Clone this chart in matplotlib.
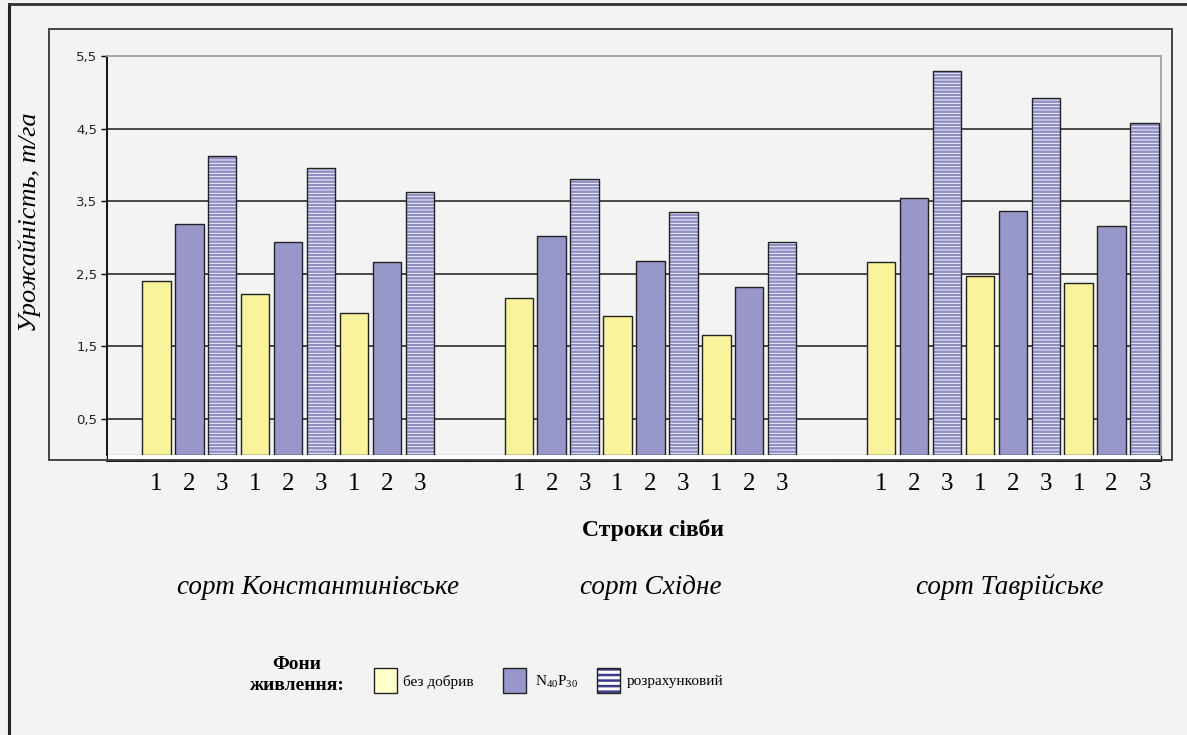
import matplotlib
matplotlib.use("Agg")
import matplotlib.pyplot as plt
from matplotlib.patches import Rectangle
from matplotlib.lines import Line2D
import numpy as np

plt.rcParams["hatch.linewidth"] = 1.8
plt.rcParams["mathtext.default"] = "regular"

# yield, t/ha, for sowing dates 1-3 within each of three backgrounds, per variety
varieties = ["сорт Константинівське", "сорт Східне", "сорт Таврійське"]
sowing_dates = ["1", "2", "3"]
series_names = ["без добрив", "N$_{40}$P$_{30}$", "розрахунковий"]

# one row per variety, one value per sowing date
bez_dobryv = [[2.40, 2.22, 1.96], [2.16, 1.91, 1.65], [2.66, 2.47, 2.37]]
n40p30 = [[3.19, 2.93, 2.66], [3.02, 2.67, 2.31], [3.54, 3.37, 3.15]]
rozrakh = [[4.12, 3.95, 3.63], [3.80, 3.35, 2.93], [5.29, 4.92, 4.58]]

yticks = [0.5, 1.5, 2.5, 3.5, 4.5, 5.5]

W, H = 1187, 735
BG = "#F3F3F3"
YEL = "#F9F39B"
BLUE = "#9797C9"
SERIF = "Liberation Serif"


def fx(px):
    return px / W


def fy(py):
    return 1 - py / H


fig = plt.figure(figsize=(W / 100, H / 100), dpi=100, facecolor=BG)
ax = fig.add_axes([fx(107), fy(455), fx(1161) - fx(107), fy(56) - fy(455)])
ax.set_facecolor(BG)

# slot layout: one empty slot, 9 bars, two empty, 9 bars, two empty, 9 bars
starts = [1, 12, 23]
bar_w = 0.86
label_pos, label_txt = [], []
for g in range(3):
    for d in range(3):
        base = starts[g] + d * 3
        ax.bar(base, bez_dobryv[g][d], width=bar_w, color=YEL, edgecolor="#222222",
               linewidth=1.0, zorder=3)
        ax.bar(base + 1, n40p30[g][d], width=bar_w, color=BLUE, edgecolor="#222222",
               linewidth=1.0, zorder=3)
        ax.bar(base + 2, rozrakh[g][d], width=bar_w, color="white", edgecolor="#8f8fc6",
               hatch="-----", linewidth=0, zorder=3)
        ax.bar(base + 2, rozrakh[g][d], width=bar_w, fill=False, edgecolor="#222222",
               linewidth=1.0, zorder=4)
        for k in range(3):
            label_pos.append(base + k)
            label_txt.append(sowing_dates[k])

ax.set_xlim(-0.5, 31.5)
ax.set_ylim(0, 5.5)

for t in yticks[:-1]:
    ax.axhline(t, color="#1a1a1a", linewidth=1.1, zorder=1)
ax.axhline(0, color="#9a9a9a", linewidth=1.0, zorder=2)

ax.set_yticks(yticks, labels=[f"{t:.1f}".replace(".", ",") for t in yticks])
ax.tick_params(axis="y", direction="out", length=4, width=1, pad=3,
               labelsize=9.5, labelcolor="#222222", labelfontfamily="DejaVu Sans")

ax.set_xticks(np.arange(-0.5, 32, 1), minor=True)
ax.set_xticks(label_pos, labels=label_txt)
ax.tick_params(axis="x", which="major", length=0, pad=9,
               labelsize=18, labelfontfamily=SERIF)
ax.tick_params(axis="x", which="minor", direction="in", length=4.5, width=1)

ax.spines["bottom"].set_position(("outward", 4))
ax.spines["bottom"].set_linewidth(1.3)
ax.spines["left"].set_linewidth(1.3)
ax.spines["top"].set_color("#a0a0a0")
ax.spines["right"].set_color("#a0a0a0")
ax.spines["top"].set_linewidth(1.3)
ax.spines["right"].set_linewidth(1.3)

# white strip between plot floor and category axis
fig.patches.append(Rectangle((fx(108), fy(460)), fx(1160) - fx(108), fy(455) - fy(460),
                             transform=fig.transFigure, facecolor="white",
                             edgecolor="none", zorder=0))

# chart area box and outer frame
fig.patches.append(Rectangle((fx(49), fy(460)), fx(1172) - fx(49), fy(29) - fy(460),
                             transform=fig.transFigure, fill=False,
                             edgecolor="#444444", linewidth=1.4, zorder=0))
fig.lines.append(Line2D([fx(9), fx(9)], [0, fy(4)], transform=fig.transFigure,
                        color="#222222", linewidth=2.2))
fig.lines.append(Line2D([fx(9), 1], [fy(4), fy(4)], transform=fig.transFigure,
                        color="#333333", linewidth=2.0))

fig.text(fx(30), fy(222), "Урожайність, т/га", rotation=90, ha="center",
         va="center", fontfamily=SERIF, fontstyle="italic", fontsize=19)

fig.text(fx(653), fy(530), "Строки сівби", ha="center", va="center",
         fontfamily=SERIF, fontweight="bold", fontsize=17)

variety_x = [318, 651, 1010]
for name, xpix in zip(varieties, variety_x):
    fig.text(fx(xpix), fy(587), name, ha="center", va="center",
             fontfamily=SERIF, fontstyle="italic", fontsize=19.5)

# legend
fig.text(fx(297), fy(675), "Фони\nживлення:", ha="center", va="center",
         fontfamily=SERIF, fontweight="bold", fontsize=14, linespacing=1.34)

box_x = [374, 503, 597]
text_x = [403, 535, 627]
for i in range(3):
    r = Rectangle((fx(box_x[i]), fy(693)), fx(23), fy(668) - fy(693),
                  transform=fig.transFigure, zorder=3,
                  facecolor=["#FFFFCC", BLUE, "white"][i],
                  edgecolor="#222222", linewidth=1.0)
    if i == 2:
        r.set_edgecolor("#3a3a8a")
        r.set_linewidth(0)
        r.set_hatch("---")
        fig.patches.append(Rectangle((fx(box_x[i]), fy(693)), fx(23), fy(668) - fy(693),
                                     transform=fig.transFigure, zorder=4, fill=False,
                                     edgecolor="#222222", linewidth=1.0))
    fig.patches.append(r)
    fig.text(fx(text_x[i]), fy(682), series_names[i], ha="left", va="center",
             fontfamily=SERIF, fontsize=11)

fig.savefig("out.png", dpi=100, facecolor=BG)
